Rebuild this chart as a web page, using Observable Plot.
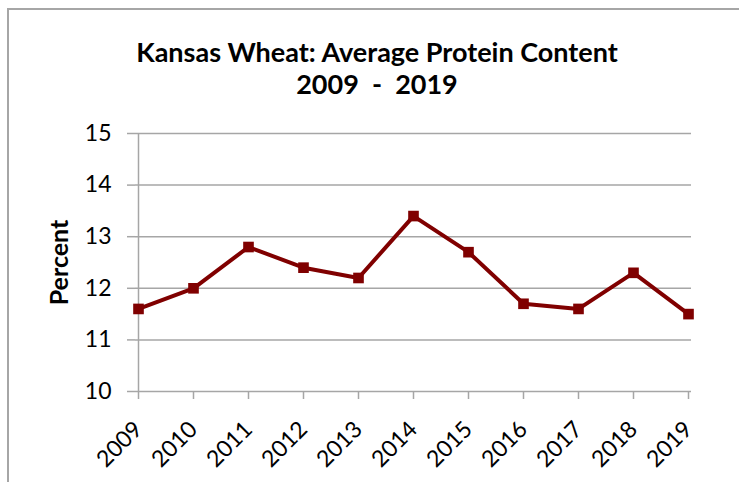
<!DOCTYPE html>
<html>
<head>
<meta charset="utf-8">
<script src="https://cdn.jsdelivr.net/npm/d3@7"></script>
<script src="https://cdn.jsdelivr.net/npm/@observablehq/plot@0.6"></script>
<style>
  html, body { margin: 0; padding: 0; background: #fff; }
  #wrap { position: relative; width: 739px; height: 482px; overflow: hidden; font-family: Lato, "Open Sans", sans-serif; }
  #frame { position: absolute; left: 7px; top: 8px; width: 900px; height: 700px; border: 2px solid #a6a6a6; box-sizing: border-box; }
  #title { position: absolute; left: 0; top: 0; width: 754px; height: 110px; text-align: center; font-weight: bold; font-size: 27px; color: #000; }
  #title .l1 { position: absolute; left: 0; right: 0; top: 35px; }
  #title .l2 { position: absolute; left: 0; right: 0; top: 67px; white-space: pre; }
  #chart { position: absolute; left: 0; top: 110px; }
</style>
</head>
<body>
<div id="wrap">
  <div id="frame"></div>
  <div id="title"><div class="l1">Kansas Wheat: Average Protein Content</div><div class="l2">2009  -  2019</div></div>
  <div id="chart"></div>
</div>
<script>
const years = ["2009","2010","2011","2012","2013","2014","2015","2016","2017","2018","2019"];
const protein = [11.6, 12.0, 12.8, 12.4, 12.2, 13.4, 12.7, 11.7, 11.6, 12.3, 11.5];
const yTicks = [10, 11, 12, 13, 14, 15];
const yLabel = "Percent";

const data = years.map((y, i) => ({year: y, value: protein[i]}));
const gray = "#a6a6a6";
const red = "#800000";

const plot = Plot.plot({
  width: 739,
  height: 372,
  marginLeft: 135,
  marginRight: 48,
  marginTop: 23,
  marginBottom: 91,
  style: {fontFamily: "Lato, 'Open Sans', sans-serif", background: "transparent", color: "#000"},
  x: {type: "point", domain: years, padding: 0},
  y: {domain: [10, 15]},
  marks: [
    Plot.gridY(yTicks, {stroke: gray, strokeOpacity: 1, strokeWidth: 1.5}),
    Plot.ruleX([years[0]], {stroke: gray, strokeWidth: 1.5}),
    Plot.axisY(yTicks, {tickSize: 8, stroke: gray, strokeWidth: 1.5, tickPadding: 16, fontSize: 23, fill: "#000", tickFormat: "d", label: null}),
    Plot.axisX({tickSize: 8, stroke: gray, strokeWidth: 1.5, tickRotate: -45, tickPadding: 26, fontSize: 23, fill: "#000", label: null}),
    Plot.text([yLabel], {frameAnchor: "left", textAnchor: "middle", dx: -76, rotate: -90, fontSize: 25, fontWeight: "bold", fill: "#000"}),
    Plot.line(data, {x: "year", y: "value", stroke: red, strokeWidth: 4}),
    Plot.dot(data, {x: "year", y: "value", symbol: "square", r: 6, fill: red, stroke: "none"})
  ]
});
document.getElementById("chart").appendChild(plot);
</script>
</body>
</html>
